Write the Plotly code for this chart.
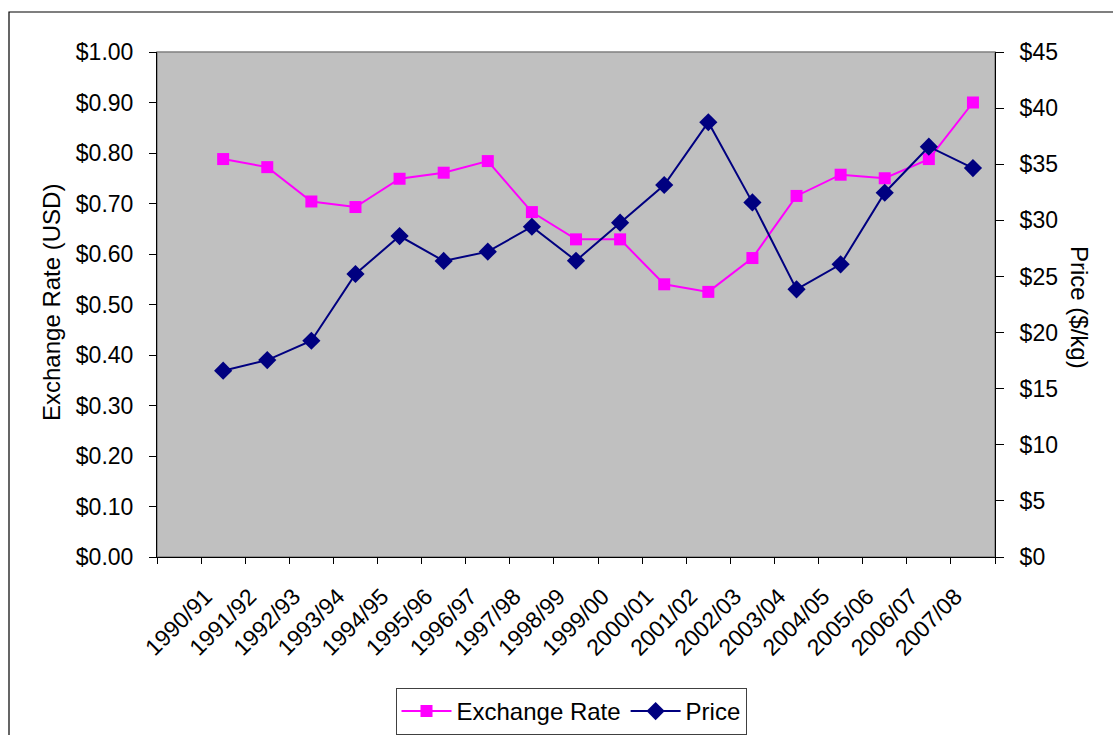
import plotly.graph_objects as go

# Season labels and the two series (exchange rate on the left axis, price on the right)
seasons = ["1990/91", "1991/92", "1992/93", "1993/94", "1994/95", "1995/96",
           "1996/97", "1997/98", "1998/99", "1999/00", "2000/01", "2001/02",
           "2002/03", "2003/04", "2004/05", "2005/06", "2006/07", "2007/08"]
exchange_rate = [0.788, 0.772, 0.704, 0.693, 0.749, 0.761, 0.784, 0.683, 0.629,
                 0.629, 0.540, 0.525, 0.592, 0.715, 0.757, 0.750, 0.788, 0.900]
price = [16.60, 17.55, 19.27, 25.22, 28.60, 26.38, 27.21, 29.43, 26.40,
         29.79, 33.15, 38.74, 31.60, 23.85, 26.08, 32.46, 36.56, 34.66]

left_ticks = [i / 10 for i in range(11)]
right_ticks = list(range(0, 50, 5))

# category slots: each season occupies one unit, the axis has one leading empty slot
n_slots = len(seasons) + 1
slot_pos = list(range(1, n_slots))
label_pos = [p - 0.4 for p in slot_pos]
boundaries = [k - 0.5 for k in range(n_slots + 1)]
x_range = [-0.5, n_slots - 0.5]

FONT = "Arial, Liberation Sans, sans-serif"

W, H = 1113, 735
ML, MR, MT, MB = 157, 118, 52, 178
PW, PH = W - ML - MR, H - MT - MB


def px_x(p):
    return (p - ML) / PW


def px_y(p):
    return (H - MB - p) / PH


fig = go.Figure()

fig.add_trace(go.Scatter(
    x=slot_pos, y=exchange_rate, name="Exchange Rate", mode="lines+markers",
    line=dict(color="#FF00FF", width=2),
    marker=dict(symbol="square", size=12, color="#FF00FF"),
    xaxis="x", yaxis="y",
))
fig.add_trace(go.Scatter(
    x=slot_pos, y=price, name="Price", mode="lines+markers",
    line=dict(color="#000080", width=2),
    marker=dict(symbol="diamond", size=14, color="#000080"),
    xaxis="x", yaxis="y2",
))

tick_font = dict(family=FONT, size=23, color="black")

fig.update_layout(
    width=W, height=H,
    margin=dict(l=ML, r=MR, t=MT, b=MB, pad=0, autoexpand=False),
    paper_bgcolor="white",
    plot_bgcolor="#C0C0C0",
    font=dict(family=FONT, size=23, color="black"),
    showlegend=True,
    legend=dict(
        orientation="h", x=px_x(571), xanchor="center", y=px_y(688), yanchor="top",
        bordercolor="#404040", borderwidth=1, bgcolor="white",
        font=dict(family=FONT, size=24, color="black"),
        itemwidth=50, tracegroupgap=0,
    ),
    xaxis=dict(
        range=x_range, showgrid=False, zeroline=False, automargin=False,
        showline=True, linecolor="black", linewidth=1,
        tickmode="array", tickvals=label_pos, ticktext=seasons,
        tickangle=-45, ticks="outside", ticklen=16, tickcolor="rgba(0,0,0,0)",
        tickfont=tick_font,
        minor=dict(tickmode="array", tickvals=boundaries, ticks="outside",
                   ticklen=6, tickcolor="black", tickwidth=1, showgrid=False),
    ),
    xaxis2=dict(
        range=x_range, overlaying="x", anchor="y", side="bottom",
        showgrid=False, zeroline=False, showline=False, automargin=False,
        tickmode="array", tickvals=boundaries, ticks="inside", ticklen=8,
        tickcolor="black", showticklabels=False,
    ),
    yaxis=dict(
        range=[0, 1], showgrid=False, zeroline=False, automargin=False,
        showline=True, linecolor="black", linewidth=1,
        tickmode="array", tickvals=left_ticks,
        ticktext=["$%.2f" % v for v in left_ticks],
        ticks="outside", ticklen=7, tickcolor="black",
        ticklabelstandoff=11, tickfont=tick_font,
    ),
    yaxis2=dict(
        range=[0, 45], overlaying="y", side="right", anchor="x",
        showgrid=False, zeroline=False, automargin=False,
        showline=True, linecolor="black", linewidth=1,
        tickmode="array", tickvals=right_ticks,
        ticktext=["$%d" % v for v in right_ticks],
        ticks="outside", ticklen=8, tickcolor="black",
        ticklabelstandoff=11, tickfont=tick_font,
    ),
    yaxis3=dict(
        range=[0, 1], overlaying="y", side="left", anchor="x", automargin=False,
        showgrid=False, zeroline=False, showline=False,
        tickmode="array", tickvals=left_ticks, ticks="inside", ticklen=7,
        tickcolor="black", showticklabels=False,
    ),
    yaxis4=dict(
        range=[0, 45], overlaying="y", side="right", anchor="x", automargin=False,
        showgrid=False, zeroline=False, showline=False,
        tickmode="array", tickvals=right_ticks, ticks="inside", ticklen=8,
        tickcolor="black", showticklabels=False,
    ),
    annotations=[
        dict(text="Exchange Rate (USD)", textangle=-90, xref="paper", yref="paper",
             x=px_x(51), y=px_y(303), xanchor="center", yanchor="middle",
             showarrow=False, font=dict(family=FONT, size=24, color="black")),
        dict(text="Price ($/kg)", textangle=90, xref="paper", yref="paper",
             x=px_x(1080), y=px_y(307), xanchor="center", yanchor="middle",
             showarrow=False, font=dict(family=FONT, size=24, color="black")),
    ],
    shapes=[
        # outer chart frame
        dict(type="rect", xref="paper", yref="paper",
             x0=px_x(9), y0=px_y(12), x1=px_x(W + 20), y1=px_y(H + 20),
             line=dict(color="black", width=1.2), fillcolor="rgba(0,0,0,0)",
             layer="below"),
        # plot area border
        dict(type="rect", xref="paper", yref="paper", x0=0, y0=0, x1=1, y1=1,
             line=dict(color="#808080", width=1.5), fillcolor="rgba(0,0,0,0)",
             layer="below"),
    ],
)

fig.write_html("out.html")
